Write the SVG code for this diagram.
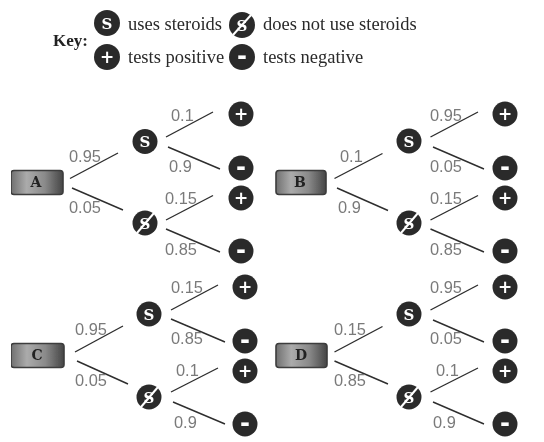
<svg xmlns="http://www.w3.org/2000/svg" width="544" height="442" viewBox="0 0 544 442">
<style>
.k{font-family:"Liberation Serif",serif;font-size:18.5px;fill:#2a2a2a}
.kb{font-family:"Liberation Serif",serif;font-size:17px;font-weight:bold;fill:#222}
.p{font-family:"Liberation Sans",Arial,sans-serif;font-size:16.4px;fill:#7a7a7a}
.c{fill:#2b2b2b}
.g{font-weight:bold;fill:#fff;text-anchor:middle}
.s{font-family:"DejaVu Serif",serif;font-size:15px}
.o{font-family:"DejaVu Sans",sans-serif;font-size:17px}
.m{font-family:"DejaVu Sans",sans-serif;font-size:24px}
.x{stroke:#fff;stroke-width:2;fill:none}
.l{stroke:#2e2e2e;stroke-width:1.4;fill:none}
.b{fill:url(#bg);stroke:#3c3c3c;stroke-width:1.6}
.t{font-family:"DejaVu Serif",serif;font-size:14px;font-weight:bold;fill:#222;text-anchor:middle}
</style>
<defs>
<linearGradient id="bg"><stop offset="0" stop-color="#707070"/><stop offset="0.3" stop-color="#ababab"/><stop offset="0.65" stop-color="#8a8a8a"/><stop offset="1" stop-color="#454545"/></linearGradient>
<filter id="soft" x="0" y="0" width="100%" height="100%"><feGaussianBlur stdDeviation="0.45"/></filter>
<circle id="n" r="12.5" class="c"/>
<circle id="nk" r="13" class="c"/>
</defs>
<rect width="544" height="442" fill="#fff"/>
<g filter="url(#soft)">
<g id="key">
<text class="kb" x="53" y="46">Key:</text>
<g id="key-s"><use href="#nk" x="107" y="23"/><text class="g s" x="107" y="28.500">S</text></g>
<text class="k" x="128" y="30">uses steroids</text>
<g id="key-ns"><use href="#nk" x="242" y="25"/><text class="g s" x="242" y="30.500">S</text><path class="x" d="M233 35L251 15"/></g>
<text class="k" x="263" y="30">does not use steroids</text>
<g id="key-pos"><use href="#nk" x="107" y="57"/><text class="g o" x="107" y="62.500">+</text></g>
<text class="k" x="128" y="63">tests positive</text>
<g id="key-neg"><use href="#nk" x="242" y="57"/><text class="g m" x="242" y="63.500">-</text></g>
<text class="k" x="263" y="63">tests negative</text>
</g>
<g id="connectors">
<path class="l" d="M70 178.500L118 153M72 188L123 210M166 137L213 112M168 147L220 169M166 220L213 195.500M166 229L220 252"/>
<path class="l" d="M334.500 178.500L382.500 153.500M337 188L388 210.500M430.500 137L478 112M433 147L484 169M430.500 220L478 195.500M430.500 229L484 252"/>
<path class="l" d="M75 352L123 326M77 361L128 384M171 310L218 285M171 319L225 342M171 392L218 368M173 402L225 424"/>
<path class="l" d="M334.500 352L382.500 326.500M334.500 361L388 384M430.500 310L478 285M433 320L484 342M430.500 392L478 368M433 402L484 424"/>
</g>
<g id="labels">
<text class="p" x="69" y="162">0.95</text><text class="p" x="69" y="213">0.05</text><text class="p" x="171" y="121">0.1</text><text class="p" x="169" y="172">0.9</text><text class="p" x="165" y="204">0.15</text><text class="p" x="165" y="255">0.85</text>
<text class="p" x="340" y="162">0.1</text><text class="p" x="338" y="213">0.9</text><text class="p" x="430" y="121">0.95</text><text class="p" x="430" y="172">0.05</text><text class="p" x="430" y="204">0.15</text><text class="p" x="430" y="255">0.85</text>
<text class="p" x="75" y="335">0.95</text><text class="p" x="75" y="386">0.05</text><text class="p" x="171" y="293">0.15</text><text class="p" x="171" y="344">0.85</text><text class="p" x="176" y="376">0.1</text><text class="p" x="174" y="428">0.9</text>
<text class="p" x="334" y="335">0.15</text><text class="p" x="334" y="386">0.85</text><text class="p" x="430" y="293">0.95</text><text class="p" x="430" y="344">0.05</text><text class="p" x="436" y="376">0.1</text><text class="p" x="433" y="428">0.9</text>
</g>
<g id="A"><rect class="b" x="11" y="170.500" width="52" height="24" rx="3"/><text class="t" x="36" y="187">A</text></g>
<g id="A-s"><use href="#n" x="145" y="141.500"/><text class="g s" x="145" y="147">S</text></g>
<g id="A-ns"><use href="#n" x="145" y="223"/><text class="g s" x="145" y="228.500">S</text><path class="x" d="M137 233L154 213"/></g>
<g id="A-sp"><use href="#n" x="241" y="114"/><text class="g o" x="241" y="119.500">+</text></g>
<g id="A-sn"><use href="#n" x="241" y="168"/><text class="g m" x="241" y="174.500">-</text></g>
<g id="A-np"><use href="#n" x="241" y="198"/><text class="g o" x="241" y="203.500">+</text></g>
<g id="A-nn"><use href="#n" x="241" y="251"/><text class="g m" x="241" y="257.500">-</text></g>
<g id="B"><rect class="b" x="276" y="170.500" width="50" height="24" rx="3"/><text class="t" x="300" y="187">B</text></g>
<g id="B-s"><use href="#n" x="409" y="141"/><text class="g s" x="409" y="146.500">S</text></g>
<g id="B-ns"><use href="#n" x="409" y="223"/><text class="g s" x="409" y="228.500">S</text><path class="x" d="M401 233L418 213"/></g>
<g id="B-sp"><use href="#n" x="505" y="114"/><text class="g o" x="505" y="119.500">+</text></g>
<g id="B-sn"><use href="#n" x="505" y="168"/><text class="g m" x="505" y="174.500">-</text></g>
<g id="B-np"><use href="#n" x="505" y="198"/><text class="g o" x="505" y="203.500">+</text></g>
<g id="B-nn"><use href="#n" x="505" y="251"/><text class="g m" x="505" y="257.500">-</text></g>
<g id="C"><rect class="b" x="11" y="343.500" width="53" height="24" rx="3"/><text class="t" x="37" y="360">C</text></g>
<g id="C-s"><use href="#n" x="149" y="314"/><text class="g s" x="149" y="319.500">S</text></g>
<g id="C-ns"><use href="#n" x="149" y="397"/><text class="g s" x="149" y="402.500">S</text><path class="x" d="M141 407L158 387"/></g>
<g id="C-sp"><use href="#n" x="245" y="287"/><text class="g o" x="245" y="292.500">+</text></g>
<g id="C-sn"><use href="#n" x="245" y="341"/><text class="g m" x="245" y="347.500">-</text></g>
<g id="C-np"><use href="#n" x="245" y="371"/><text class="g o" x="245" y="376.500">+</text></g>
<g id="C-nn"><use href="#n" x="245" y="424"/><text class="g m" x="245" y="430.500">-</text></g>
<g id="D"><rect class="b" x="276" y="343.500" width="51" height="24" rx="3"/><text class="t" x="301" y="360">D</text></g>
<g id="D-s"><use href="#n" x="409" y="314"/><text class="g s" x="409" y="319.500">S</text></g>
<g id="D-ns"><use href="#n" x="409" y="397"/><text class="g s" x="409" y="402.500">S</text><path class="x" d="M401 407L418 387"/></g>
<g id="D-sp"><use href="#n" x="505" y="287"/><text class="g o" x="505" y="292.500">+</text></g>
<g id="D-sn"><use href="#n" x="505" y="341"/><text class="g m" x="505" y="347.500">-</text></g>
<g id="D-np"><use href="#n" x="505" y="371"/><text class="g o" x="505" y="376.500">+</text></g>
<g id="D-nn"><use href="#n" x="505" y="424"/><text class="g m" x="505" y="430.500">-</text></g>
</g>
</svg>
